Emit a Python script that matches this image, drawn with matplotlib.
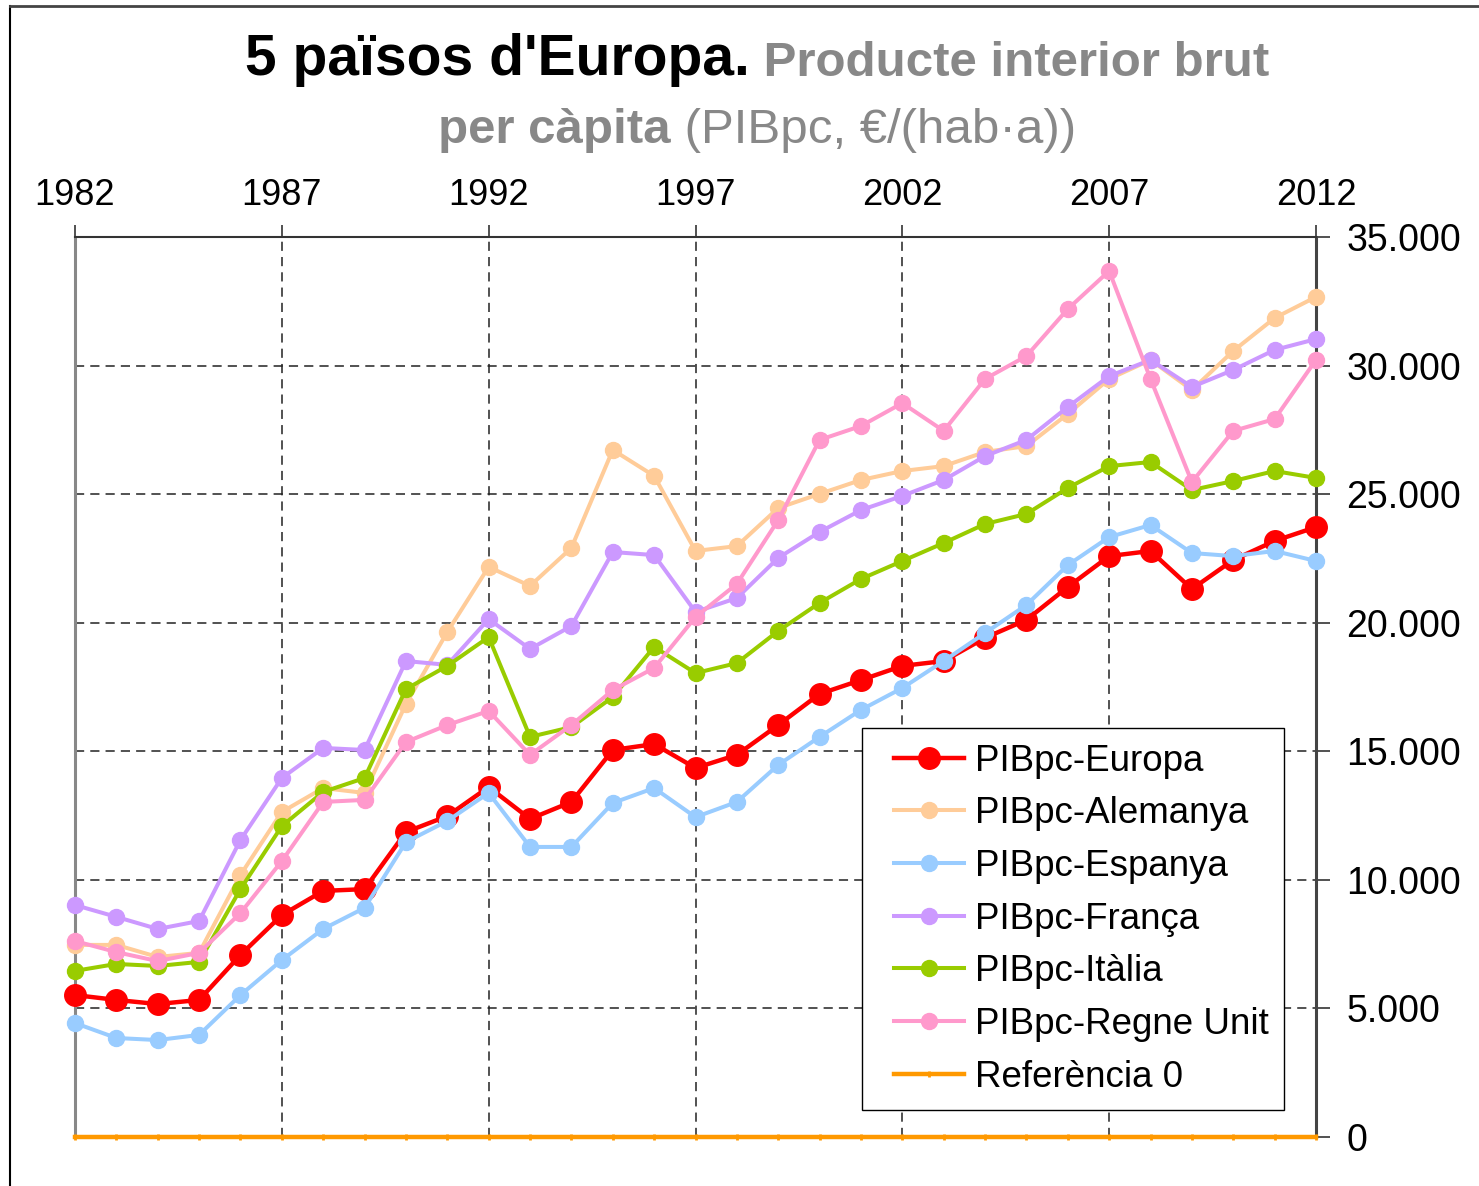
import matplotlib
matplotlib.use("Agg")
import matplotlib.pyplot as plt
from matplotlib.ticker import FuncFormatter, MultipleLocator
from matplotlib.lines import Line2D
from matplotlib.legend_handler import HandlerLine2D

plt.rcParams['font.family'] = ['Liberation Sans', 'DejaVu Sans']

years = list(range(1982, 2013))

europa = [5520, 5330, 5170, 5330, 7080, 8630, 9570, 9640, 11860, 12480, 13610,
          12370, 13030, 15050, 15280, 14350, 14860, 16020, 17230, 17770, 18320,
          18510, 19410, 20110, 21390, 22590, 22790, 21310, 22440, 23180, 23720]
alemanya = [7470, 7470, 7000, 7160, 10190, 12640, 13570, 13380, 16840, 19640, 22170,
            21430, 22910, 26720, 25710, 22790, 22980, 24460, 25010, 25550, 25900,
            26090, 26640, 26870, 28120, 29480, 30220, 29050, 30570, 31850, 32670]
espanya = [4430, 3850, 3770, 3970, 5520, 6880, 8090, 8910, 11470, 12290, 13380,
           11280, 11280, 12990, 13570, 12440, 13030, 14470, 15560, 16610, 17460,
           18510, 19600, 20690, 22240, 23330, 23800, 22710, 22590, 22790, 22400]
franca = [9020, 8560, 8090, 8400, 11550, 13960, 15130, 15050, 18510, 18360, 20140,
          18980, 19870, 22750, 22630, 20420, 20960, 22520, 23530, 24380, 24930,
          25550, 26480, 27110, 28390, 29590, 30220, 29170, 29830, 30610, 31030]
italia = [6460, 6730, 6650, 6810, 9640, 12090, 13420, 13960, 17420, 18320, 19440,
          15560, 15940, 17110, 19060, 18040, 18430, 19680, 20770, 21700, 22400,
          23100, 23840, 24230, 25240, 26090, 26250, 25160, 25510, 25900, 25630]
regne_unit = [7620, 7190, 6840, 7160, 8710, 10730, 13030, 13110, 15360, 16020, 16570,
              14860, 16020, 17380, 18240, 20220, 21510, 23990, 27110, 27650, 28540,
              27460, 29480, 30370, 32200, 33680, 29480, 25470, 27460, 27920, 30220]
referencia = [0] * len(years)

labels = ['PIBpc-Europa', 'PIBpc-Alemanya', 'PIBpc-Espanya', 'PIBpc-França',
          'PIBpc-Itàlia', 'PIBpc-Regne Unit', 'Referència 0']
colors = ['#FF0000', '#FFCC99', '#99CCFF', '#CC99FF', '#99CC00', '#FF99CC', '#FF9900']
x_ticks = [1982, 1987, 1992, 1997, 2002, 2007, 2012]

W, H = 1479, 1186
fig = plt.figure(figsize=(W / 100, H / 100), dpi=100)
ax = fig.add_axes([75 / W, 1 - 1137 / H, (1316 - 75) / W, (1137 - 237) / H])

series = [europa, alemanya, espanya, franca, italia, regne_unit]
for i, (s, lab, c) in enumerate(zip(series, labels, colors)):
    if i == 0:
        ax.plot(years, s, color=c, lw=3.2, marker='o', ms=15.5, mec=c, mfc=c,
                label=lab, clip_on=False, zorder=3 + i)
    else:
        ax.plot(years, s, color=c, lw=2.9, marker='o', ms=11.5, mec=c, mfc=c,
                label=lab, clip_on=False, zorder=3 + i)
ax.plot(years, referencia, color=colors[6], lw=3.2, marker='|', ms=4, mew=2,
        label=labels[6], clip_on=False, zorder=10)

ax.set_xlim(1982, 2012)
ax.set_ylim(0, 35000)
ax.set_xticks(x_ticks)
ax.yaxis.set_major_locator(MultipleLocator(5000))
ax.yaxis.set_major_formatter(FuncFormatter(lambda v, p: f"{int(v):,}".replace(",", ".")))

ax.xaxis.tick_top()
ax.yaxis.tick_right()
ax.tick_params(axis='x', direction='out', length=9, width=1.2, color='#333333',
               labelsize=26, pad=8)
ax.tick_params(axis='y', direction='out', length=10, width=1.2, color='#333333',
               labelsize=27, pad=12)

ax.grid(True, color='#222222', linestyle=(0, (6, 4)), linewidth=1.1)
ax.set_axisbelow(True)

ax.spines['left'].set_color('#888888')
ax.spines['left'].set_linewidth(2.2)
ax.spines['right'].set_color('#444444')
ax.spines['right'].set_linewidth(2.2)
ax.spines['top'].set_color('#333333')
ax.spines['top'].set_linewidth(1.5)
ax.spines['bottom'].set_color('#333333')
ax.spines['bottom'].set_linewidth(1.5)

leg = ax.legend(loc='lower right', bbox_to_anchor=(0.974, 0.030), borderaxespad=0,
                fontsize=26.5, fancybox=False, edgecolor='black', framealpha=1,
                handlelength=2.36, handletextpad=0.28, labelspacing=0.48,
                borderpad=0.42,
                handler_map={Line2D: HandlerLine2D(xpad=0.46)})
leg.get_frame().set_linewidth(1.0)
leg.set_zorder(20)

# Title (mixed styles)
fig.canvas.draw()
r = fig.canvas.get_renderer()
gray = '#888888'
t1 = fig.text(0, 1 - 75 / H, "5 països d'Europa.", fontsize=41, fontweight='bold',
              color='black', va='baseline')
t2 = fig.text(0, 1 - 76 / H, " Producte interior brut", fontsize=35.5, fontweight='bold',
              color=gray, va='baseline')
t3 = fig.text(0, 1 - 143 / H, "per càpita", fontsize=35.5, fontweight='bold',
              color=gray, va='baseline')
t4 = fig.text(0, 1 - 143 / H, " (PIBpc, €/(hab·a))", fontsize=35.5,
              color=gray, va='baseline')

def place(parts, cx):
    widths = [p.get_window_extent(r).width for p in parts]
    total = sum(widths)
    x = cx - total / 2
    for p, w in zip(parts, widths):
        p.set_x(x / W)
        x += w

place([t1, t2], 757)
place([t3, t4], 757)

# figure border
fig.add_artist(Line2D([10 / W, 10 / W], [0, 1 - 6 / H], color='black', lw=1.5,
                      transform=fig.transFigure))
fig.add_artist(Line2D([10 / W, 1], [1 - 6 / H, 1 - 6 / H], color='#444444', lw=2,
                      transform=fig.transFigure))

fig.savefig('out.png', dpi=100)
